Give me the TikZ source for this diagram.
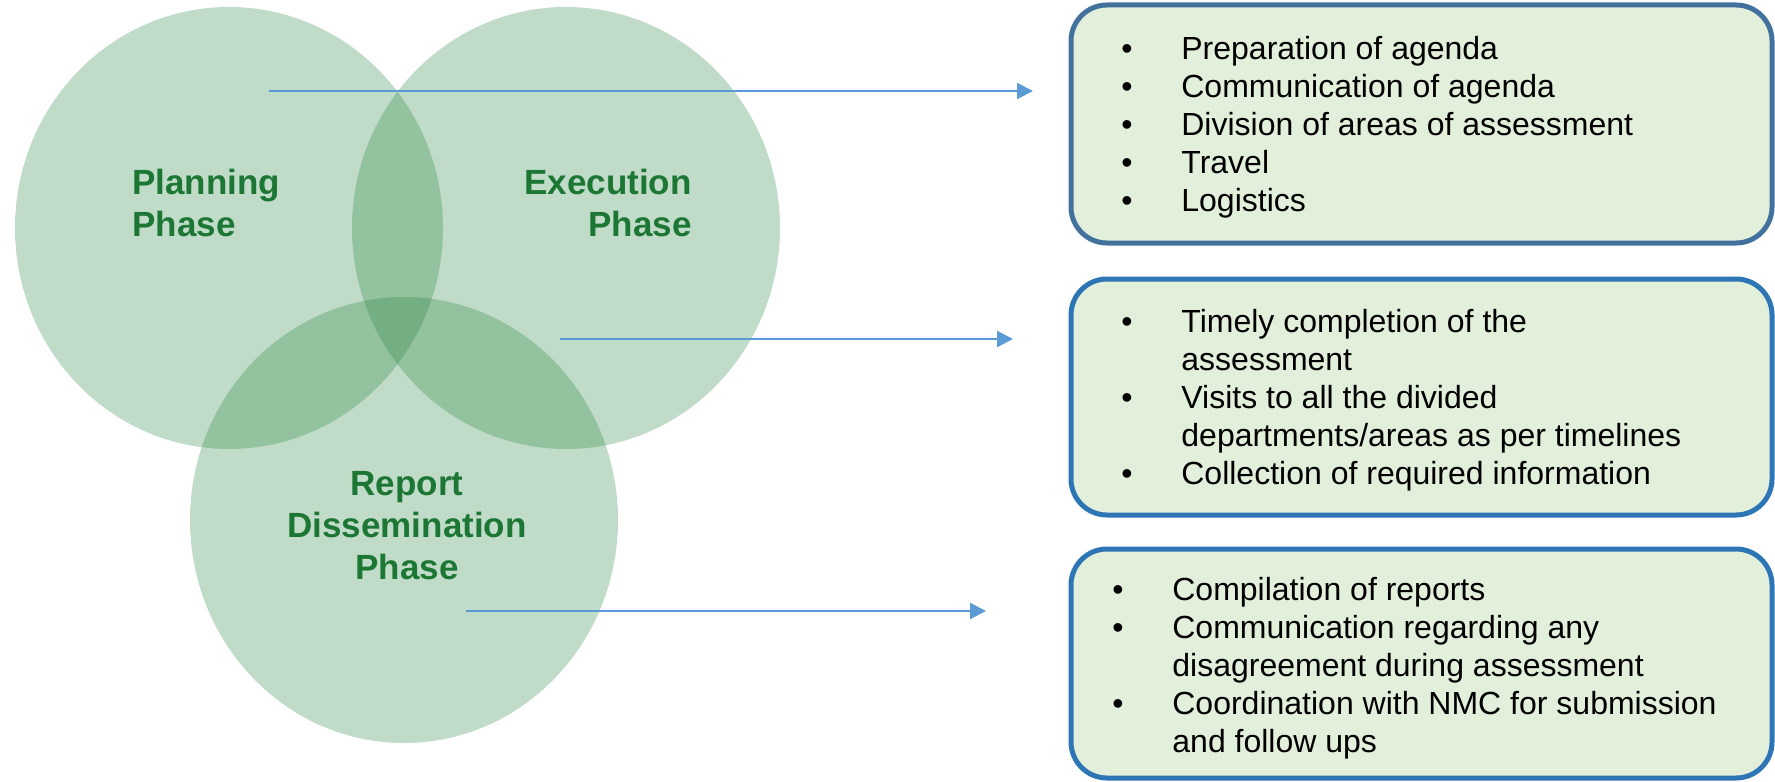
\documentclass[tikz,border=0pt]{standalone}
\usepackage{fontspec}
\setmainfont{Liberation Sans}
\usetikzlibrary{arrows.meta,shapes.geometric}

\definecolor{phasegreen}{RGB}{30,127,55}
\definecolor{labelgreen}{RGB}{28,118,52}
\definecolor{linkblue}{RGB}{91,155,213}
\definecolor{boxfill}{RGB}{226,239,218}
\definecolor{boxedge}{RGB}{46,117,182}
\definecolor{boxedgedark}{RGB}{65,113,156}
\newcommand{\blt}{\makebox[30pt][l]{\textbullet}}
\newcommand{\gap}{\hspace*{30pt}}

\begin{document}
\begin{tikzpicture}[x=0.5pt, y=-0.5pt,
    phase/.style={ellipse, minimum width=214pt, minimum height=221pt, inner sep=0pt, fill=phasegreen, fill opacity=0.28},
    phaselabel/.style={font=\fontsize{17.5}{21}\selectfont\bfseries, text=labelgreen, inner sep=0pt},
    notebox/.style={draw=boxedge, line width=2.5pt, rounded corners=18pt, fill=boxfill, minimum width=350.5pt},
    items/.style={font=\fontsize{16}{19}\selectfont, inner sep=0pt, anchor=base west},
    link/.style={draw=linkblue, line width=1pt, -{Triangle[length=8pt,width=8pt]}}]
\useasboundingbox (0,0) rectangle (1775,781);

% three overlapping phases
\node[phase] (planning) at (229,228) {};
\node[phase] (execution) at (566,228) {};
\node[phase, minimum height=223pt] (report) at (404,520) {};

\node[phaselabel, anchor=base west] (planninglabel) at (132,194)
  {\begin{tabular}[t]{@{}l@{}}Planning\\Phase\end{tabular}};
\node[phaselabel, anchor=base east] (executionlabel) at (692,194)
  {\begin{tabular}[t]{@{}r@{}}Execution\\Phase\end{tabular}};
\node[phaselabel, anchor=base] (reportlabel) at (407,495)
  {\begin{tabular}[t]{@{}c@{}}Report\\Dissemination\\Phase\end{tabular}};

% activity boxes
\node[notebox, draw=boxedgedark, minimum height=119pt] (planningbox) at (1421.5,124) {};
\node[notebox, minimum height=118pt] (executionbox) at (1421.5,397) {};
\node[notebox, minimum height=114.5pt] (reportbox) at (1421.5,663.5) {};

\node[items] (planningitems) at (1121,60) {\begin{tabular}[t]{@{}l@{}}
  \blt Preparation of agenda\\
  \blt Communication of agenda\\
  \blt Division of areas of assessment\\
  \blt Travel\\
  \blt Logistics\end{tabular}};
\node[items] (executionitems) at (1121,332) {\begin{tabular}[t]{@{}l@{}}
  \blt Timely completion of the\\
  \gap assessment\\
  \blt Visits to all the divided\\
  \gap departments/areas as per timelines\\
  \blt Collection of required information\end{tabular}};
\node[items] (reportitems) at (1112,600) {\begin{tabular}[t]{@{}l@{}}
  \blt Compilation of reports\\
  \blt Communication regarding any\\
  \gap disagreement during assessment\\
  \blt Coordination with NMC for submission\\
  \gap and follow ups\end{tabular}};

% links from each phase to its box
\coordinate (planningtail) at (269,91);
\coordinate (planninghead) at (1033,91);
\coordinate (executiontail) at (560,339);
\coordinate (executionhead) at (1013,339);
\coordinate (reporttail) at (466,611);
\coordinate (reporthead) at (986,611);
\draw[link] (planningtail) -- (planninghead);
\draw[link] (executiontail) -- (executionhead);
\draw[link] (reporttail) -- (reporthead);
\end{tikzpicture}
\end{document}
